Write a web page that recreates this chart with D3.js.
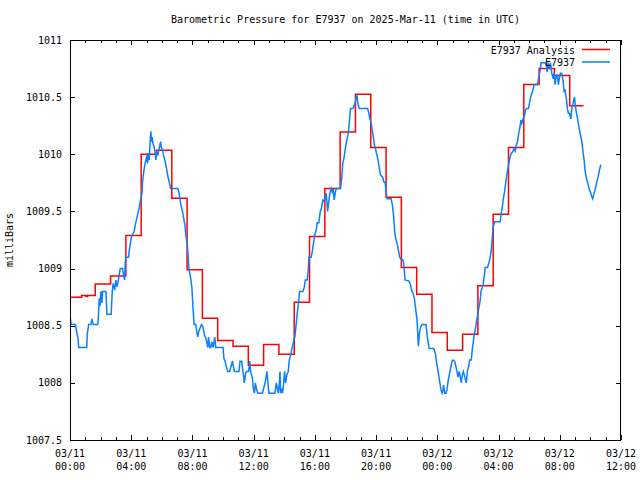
<!DOCTYPE html>
<html>
<head>
<meta charset="utf-8">
<script src="https://cdn.jsdelivr.net/npm/d3@7"></script>
<style>
  html, body { margin: 0; padding: 0; background: #fff; }
  svg { display: block; }
  text { font-family: "DejaVu Sans Mono", "Liberation Mono", monospace; font-size: 10px; fill: #000; }
</style>
</head>
<body>
<svg id="chart" width="640" height="480"></svg>
<script>
// ---------------- DATA ----------------
const chartTitle = "Barometric Pressure for E7937 on 2025-Mar-11 (time in UTC)";
const yLabel = "milliBars";
const seriesNames = ["E7937 Analysis", "E7937"];
const startTimeUTC = "2025-03-11T00:00:00Z";
const endTimeUTC = "2025-03-12T12:00:00Z";
const yTicks = [1007.5, 1008, 1008.5, 1009, 1009.5, 1010, 1010.5, 1011];
const yTickLabels = ["1007.5", "1008", "1008.5", "1009", "1009.5", "1010", "1010.5", "1011"];

// Analysis (hours after start, step-after values in mb)
const analysisHours = [0, 0.76, 1.05, 1.15, 1.65, 2.65, 3.65, 4.65, 5.65, 6.65, 7.65, 8.65, 9.65, 10.65, 11.65, 12.65, 13.65, 14.65, 15.65, 16.65, 17.65, 18.65, 19.65, 20.65, 21.65, 22.65, 23.65, 24.65, 25.65, 26.65, 27.65, 28.65, 29.65, 30.65, 31.65, 32.65, 33.55];
const analysisPressure = [1008.75, 1008.765, 1008.755, 1008.765, 1008.865, 1008.935, 1009.29, 1010.00, 1010.035, 1009.615, 1008.99, 1008.565, 1008.37, 1008.32, 1008.155, 1008.335, 1008.25, 1008.705, 1009.28, 1009.70, 1010.195, 1010.525, 1010.06, 1009.625, 1009.01, 1008.775, 1008.44, 1008.285, 1008.425, 1008.85, 1009.475, 1010.06, 1010.61, 1010.75, 1010.69, 1010.425, 1010.425];

// Station observations (hours after start, mb)
const stationHours = [0,0.08,0.35,0.46,0.52,0.57,1.09,1.13,1.22,1.37,1.43,1.52,1.81,1.85,1.91,1.96,2.02,2.09,2.13,2.35,2.41,2.69,2.76,2.82,2.92,3.00,3.07,3.15,3.28,3.44,3.50,3.57,3.61,3.65,3.83,3.87,3.98,4.04,4.19,4.26,4.35,4.43,4.52,4.61,4.70,4.74,4.83,4.89,4.98,5.02,5.07,5.11,5.17,5.22,5.28,5.33,5.37,5.41,5.48,5.56,5.61,5.67,5.74,5.82,5.92,5.98,6.05,6.11,6.20,6.26,6.33,6.39,6.48,6.57,7.04,7.13,7.24,7.35,7.43,7.52,7.57,7.63,7.70,7.74,7.78,7.87,7.96,8.04,8.11,8.22,8.28,8.35,8.41,8.50,8.59,8.69,8.78,8.87,8.95,9.00,9.05,9.13,9.20,9.26,9.35,9.46,9.52,10.00,10.06,10.13,10.22,10.30,10.43,10.55,10.61,10.68,10.74,11.04,11.11,11.22,11.26,11.33,11.39,11.46,11.52,11.67,11.74,11.80,11.92,11.98,12.05,12.11,12.18,12.28,12.57,12.65,12.74,12.80,12.87,12.93,13.00,13.39,13.48,13.55,13.61,13.68,13.72,13.76,13.83,13.89,13.96,14.02,14.09,14.17,14.26,14.33,14.41,14.50,14.56,14.63,14.69,14.76,14.85,14.93,15.00,15.22,15.31,15.37,15.50,15.57,15.61,15.76,15.83,15.91,15.98,16.09,16.15,16.26,16.35,16.43,16.52,16.59,16.65,16.74,16.83,16.91,16.98,17.07,17.13,17.20,17.26,17.33,17.39,17.67,17.76,17.82,17.89,17.98,18.05,18.11,18.20,18.26,18.33,18.48,18.54,18.63,18.70,18.76,18.80,18.89,19.45,19.52,19.59,19.68,19.76,19.83,19.89,19.96,20.02,20.11,20.20,20.28,20.43,20.50,20.59,20.65,20.72,20.98,21.07,21.15,21.22,21.31,21.39,21.46,21.54,21.63,21.74,21.80,21.89,22.15,22.24,22.32,22.42,22.50,22.59,22.68,22.76,22.83,22.91,23.00,23.26,23.35,23.46,23.76,23.87,23.96,24.05,24.13,24.24,24.31,24.37,24.41,24.48,24.57,24.63,24.72,24.78,24.87,24.96,25.04,25.13,25.22,25.28,25.35,25.43,25.50,25.57,25.63,25.70,25.76,25.83,25.89,25.96,26.04,26.11,26.22,26.28,26.37,26.41,26.50,26.56,26.63,26.70,26.79,26.85,26.92,27.00,27.07,27.13,27.28,27.39,27.48,27.54,27.61,27.65,27.74,28.11,28.17,28.24,28.30,28.39,28.48,28.54,28.63,28.70,28.76,28.83,28.91,29.02,29.09,29.15,29.24,29.30,29.39,29.46,29.52,29.61,29.70,29.76,29.83,29.95,30.05,30.13,30.22,30.33,30.44,30.54,30.61,30.70,30.78,30.91,31.04,31.13,31.17,31.24,31.33,31.39,31.48,31.57,31.63,31.70,31.74,31.83,31.91,31.96,32.04,32.13,32.22,32.28,32.35,32.43,32.50,32.56,32.63,32.72,32.79,32.87,32.96,33.02,33.09,33.18,33.26,33.35,33.44,33.52,33.59,33.65,33.74,33.83,33.91,34.00,34.09,34.15,34.24,34.33,34.42,34.50,34.59,34.68];
const stationPressure = [1008.58,1008.51,1008.51,1008.43,1008.39,1008.31,1008.31,1008.43,1008.51,1008.51,1008.56,1008.51,1008.51,1008.56,1008.74,1008.67,1008.80,1008.70,1008.80,1008.80,1008.60,1008.60,1008.80,1008.87,1008.81,1008.90,1008.84,1008.89,1009.00,1009.00,1008.94,1008.90,1009.05,1009.10,1009.10,1009.16,1009.25,1009.29,1009.32,1009.38,1009.43,1009.48,1009.53,1009.60,1009.66,1009.76,1009.86,1009.91,1009.96,1009.99,1009.92,1010.01,1009.95,1010.07,1010.20,1010.11,1010.15,1010.10,1010.07,1010.02,1009.95,1010.02,1009.99,1010.05,1010.11,1010.05,1010.04,1009.99,1009.95,1009.91,1009.86,1009.81,1009.76,1009.70,1009.70,1009.66,1009.56,1009.50,1009.44,1009.37,1009.29,1009.24,1009.15,1009.06,1008.99,1008.93,1008.84,1008.65,1008.51,1008.51,1008.45,1008.40,1008.45,1008.48,1008.51,1008.49,1008.42,1008.39,1008.35,1008.31,1008.40,1008.31,1008.31,1008.36,1008.31,1008.40,1008.31,1008.31,1008.21,1008.19,1008.14,1008.10,1008.10,1008.16,1008.19,1008.14,1008.10,1008.10,1008.19,1008.19,1008.14,1008.07,1008.00,1008.07,1008.10,1008.10,1008.19,1008.10,1008.04,1007.95,1007.91,1008.00,1007.95,1007.91,1007.91,1007.95,1008.00,1008.04,1008.10,1008.00,1007.91,1007.91,1008.00,1007.95,1007.91,1008.00,1008.10,1007.91,1007.95,1007.91,1008.00,1008.10,1008.00,1008.07,1008.10,1008.20,1008.24,1008.30,1008.33,1008.38,1008.40,1008.49,1008.61,1008.70,1008.80,1008.80,1008.84,1008.90,1008.90,1008.99,1009.10,1009.10,1009.15,1009.22,1009.29,1009.34,1009.40,1009.40,1009.50,1009.53,1009.60,1009.59,1009.61,1009.66,1009.50,1009.59,1009.66,1009.70,1009.67,1009.70,1009.60,1009.66,1009.70,1009.70,1009.80,1009.92,1009.96,1010.04,1010.10,1010.14,1010.20,1010.30,1010.40,1010.40,1010.42,1010.45,1010.50,1010.51,1010.45,1010.40,1010.40,1010.36,1010.31,1010.27,1010.20,1010.14,1010.08,1010.05,1010.01,1009.96,1009.89,1009.82,1009.80,1009.76,1009.75,1009.67,1009.61,1009.61,1009.55,1009.45,1009.31,1009.25,1009.21,1009.16,1009.10,1009.08,1009.08,1009.05,1008.90,1008.89,1008.86,1008.81,1008.78,1008.74,1008.64,1008.54,1008.32,1008.43,1008.49,1008.51,1008.51,1008.40,1008.30,1008.30,1008.26,1008.17,1008.10,1008.03,1007.94,1007.91,1007.94,1007.98,1007.91,1007.91,1007.94,1008.03,1008.07,1008.13,1008.19,1008.20,1008.19,1008.14,1008.10,1008.05,1008.10,1008.05,1008.00,1008.07,1008.10,1008.07,1008.03,1008.00,1008.10,1008.14,1008.20,1008.20,1008.29,1008.38,1008.42,1008.48,1008.54,1008.59,1008.65,1008.71,1008.80,1008.83,1008.87,1008.94,1009.01,1009.01,1009.06,1009.12,1009.18,1009.31,1009.36,1009.41,1009.41,1009.48,1009.53,1009.60,1009.67,1009.76,1009.82,1009.89,1009.94,1009.98,1010.01,1010.02,1010.05,1010.03,1010.08,1010.11,1010.17,1010.23,1010.30,1010.27,1010.31,1010.34,1010.39,1010.40,1010.40,1010.47,1010.52,1010.55,1010.61,1010.61,1010.61,1010.66,1010.72,1010.80,1010.80,1010.80,1010.78,1010.72,1010.80,1010.75,1010.80,1010.71,1010.66,1010.71,1010.61,1010.66,1010.70,1010.61,1010.66,1010.71,1010.71,1010.64,1010.55,1010.56,1010.49,1010.40,1010.36,1010.36,1010.31,1010.40,1010.45,1010.50,1010.42,1010.36,1010.30,1010.23,1010.17,1010.11,1010.02,1009.95,1009.86,1009.79,1009.75,1009.70,1009.67,1009.63,1009.61,1009.66,1009.70,1009.76,1009.80,1009.86,1009.91];

// ---------------- CHART ----------------
const W = 640, H = 480;
const m = { left: 70, right: 19, top: 40, bottom: 40 };
const svg = d3.select("#chart");
const t0 = new Date(startTimeUTC), t1 = new Date(endTimeUTC);
const HOUR = 3600 * 1000;
const toDate = h => new Date(t0.getTime() + h * HOUR);

const x = d3.scaleUtc().domain([t0, t1]).range([m.left, W - m.right]);
const y = d3.scaleLinear().domain([1007.5, 1011]).range([H - m.bottom, m.top]);

const analysis = analysisHours.map((h, i) => ({ t: toDate(h), v: analysisPressure[i] }));
const station = stationHours.map((h, i) => ({ t: toDate(h), v: stationPressure[i] }));

const colors = ["#ff0000", "#0a80ff"];

// Title
svg.append("text").attr("x", (m.left + W - m.right) / 2).attr("y", 23)
  .attr("text-anchor", "middle").text(chartTitle);

// Y label
svg.append("text").attr("transform", `translate(13,${(m.top + H - m.bottom) / 2}) rotate(-90)`)
  .attr("text-anchor", "middle").text(yLabel);

const majorX = d3.utcHour.every(4).range(t0, new Date(t1.getTime() + 1));
const minorX = d3.utcHour.every(1).range(t0, new Date(t1.getTime() + 1));
const fmtDate = d3.utcFormat("%m/%d"), fmtTime = d3.utcFormat("%H:%M");

// Axes with inward ticks on all four sides
const xMinorB = d3.axisBottom(x).tickValues(minorX).tickSizeInner(-3).tickSizeOuter(0).tickFormat("");
const xMajorB = d3.axisBottom(x).tickValues(majorX).tickSizeInner(-5).tickSizeOuter(0).tickFormat("");
const xMinorT = d3.axisTop(x).tickValues(minorX).tickSizeInner(-3).tickSizeOuter(0).tickFormat("");
const xMajorT = d3.axisTop(x).tickValues(majorX).tickSizeInner(-5).tickSizeOuter(0).tickFormat("");
[xMinorB, xMajorB].forEach(a => svg.append("g").attr("transform", `translate(0,${H - m.bottom})`).call(a));
[xMinorT, xMajorT].forEach(a => svg.append("g").attr("transform", `translate(0,${m.top})`).call(a));

const yL = d3.axisLeft(y).tickValues(yTicks).tickSizeInner(-5).tickSizeOuter(0).tickFormat("");
const yR = d3.axisRight(y).tickValues(yTicks).tickSizeInner(-5).tickSizeOuter(0).tickFormat("");
svg.append("g").attr("transform", `translate(${m.left},0)`).call(yL);
svg.append("g").attr("transform", `translate(${W - m.right},0)`).call(yR);
svg.selectAll(".domain").remove();
svg.selectAll(".tick line").attr("stroke", "#000").attr("shape-rendering", "crispEdges");

// Tick labels
const xl = svg.append("g");
majorX.forEach(d => {
  const tx = xl.append("text").attr("x", x(d)).attr("text-anchor", "middle");
  tx.append("tspan").attr("x", x(d)).attr("y", H - m.bottom + 17).text(fmtDate(d));
  tx.append("tspan").attr("x", x(d)).attr("y", H - m.bottom + 30).text(fmtTime(d));
});
yTicks.forEach((v, i) => {
  svg.append("text").attr("x", m.left - 8).attr("y", y(v)).attr("dy", "0.35em")
    .attr("text-anchor", "end").text(yTickLabels[i]);
});

// Lines
svg.append("clipPath").attr("id", "clip").append("rect")
  .attr("x", m.left).attr("y", m.top).attr("width", W - m.left - m.right).attr("height", H - m.top - m.bottom);
const stepLine = d3.line().x(d => x(d.t)).y(d => y(d.v)).curve(d3.curveStepAfter);
const line = d3.line().x(d => x(d.t)).y(d => y(d.v));
const gl = svg.append("g").attr("clip-path", "url(#clip)");
gl.append("path").datum(analysis).attr("d", stepLine).attr("fill", "none")
  .attr("stroke", colors[0]).attr("stroke-width", 1.5);
gl.append("path").datum(station).attr("d", line).attr("fill", "none")
  .attr("stroke", colors[1]).attr("stroke-width", 1.5).attr("stroke-linejoin", "miter");

// Border
svg.append("rect").attr("x", m.left + 0.5).attr("y", m.top + 0.5)
  .attr("width", W - m.left - m.right - 1).attr("height", H - m.top - m.bottom)
  .attr("fill", "none").attr("stroke", "#000").attr("stroke-width", 1).attr("shape-rendering", "crispEdges");

// Legend
const lg = svg.append("g");
seriesNames.forEach((name, i) => {
  const yy = 50 + i * 12.5;
  lg.append("text").attr("x", 575).attr("y", yy).attr("dy", "0.35em").attr("text-anchor", "end").text(name);
  lg.append("line").attr("x1", 582).attr("x2", 610).attr("y1", yy - 0.5).attr("y2", yy - 0.5)
    .attr("stroke", colors[i]).attr("stroke-width", 1.5);
});
</script>
</body>
</html>
